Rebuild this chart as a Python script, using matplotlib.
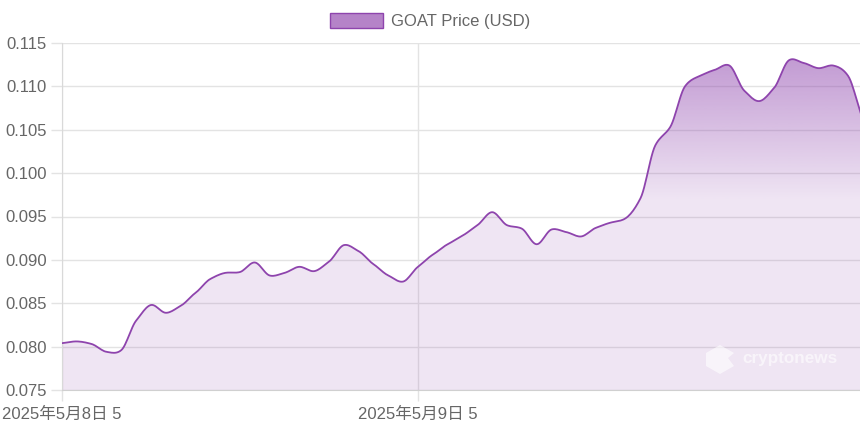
import matplotlib
matplotlib.use("Agg")
import matplotlib.pyplot as plt
import numpy as np
from matplotlib.patches import Patch, Polygon

plt.rcParams['font.family'] = ['Liberation Sans', 'Noto Sans CJK SC', 'DejaVu Sans']

# hourly GOAT price, starting 2025-05-08 05:00
hours = list(range(55))
price = [0.0804, 0.0806, 0.0803, 0.0794, 0.0796, 0.0830, 0.0848, 0.0839, 0.0847, 0.0862,
         0.0878, 0.0885, 0.0886, 0.0897, 0.0882, 0.0885, 0.0892, 0.0887, 0.0898, 0.0917,
         0.0910, 0.0895, 0.0882, 0.0875, 0.0892, 0.0906, 0.0918, 0.0928, 0.0940, 0.0955,
         0.0940, 0.0936, 0.0918, 0.0935, 0.0932, 0.0927, 0.0937, 0.0943, 0.0948, 0.0971,
         0.1032, 0.1053, 0.1100, 0.1112, 0.1119, 0.1124, 0.1095, 0.1083, 0.1098, 0.1130,
         0.1127, 0.1121, 0.1124, 0.1112, 0.1062]
xtick_pos = [0, 24]
xtick_labels = ["2025年5月8日 5", "2025年5月9日 5"]
yticks = [0.075, 0.080, 0.085, 0.090, 0.095, 0.100, 0.105, 0.110, 0.115]

line_col = "#8e44ad"
grid_col = "#e3e3e3"
text_col = "#666666"


def smooth(x, y, n=12, tension=0.4):
    # catmull-rom style curve through the points (like chart.js tension)
    x = np.asarray(x, float)
    y = np.asarray(y, float)
    m = np.zeros_like(y)
    m[1:-1] = (y[2:] - y[:-2]) / (x[2:] - x[:-2])
    m[0] = (y[1] - y[0]) / (x[1] - x[0])
    m[-1] = (y[-1] - y[-2]) / (x[-1] - x[-2])
    m *= tension / 0.5
    xs, ys = [], []
    for i in range(len(x) - 1):
        h = x[i + 1] - x[i]
        t = np.linspace(0, 1, n, endpoint=False)
        h00 = 2*t**3 - 3*t**2 + 1
        h10 = t**3 - 2*t**2 + t
        h01 = -2*t**3 + 3*t**2
        h11 = t**3 - t**2
        xs.append(x[i] + t*h)
        ys.append(h00*y[i] + h10*h*m[i] + h01*y[i+1] + h11*h*m[i+1])
    xs.append([x[-1]])
    ys.append([y[-1]])
    return np.concatenate(xs), np.concatenate(ys)


fig = plt.figure(figsize=(8.6, 4.29), dpi=100)
ax = fig.add_axes([62/860, 1 - 390/429, 798/860, 347/429])

xs, ys = smooth(hours, price)
x_max = 53.8
y_min, y_max = 0.075, 0.115

# gradient fill under the curve
vals = np.linspace(y_min, y_max, 256)
alpha = np.clip(0.14 + (vals - 0.097) / (y_max - 0.097) * (0.58 - 0.14), 0.14, 0.58)
rgba = np.zeros((256, 1, 4))
rgba[..., 0] = 142/255
rgba[..., 1] = 68/255
rgba[..., 2] = 173/255
rgba[..., 3] = alpha.reshape(-1, 1)
im = ax.imshow(rgba, extent=[0, x_max, y_min, y_max], origin='lower',
               aspect='auto', zorder=1, interpolation='bilinear')
poly = Polygon(np.column_stack([np.r_[xs, xs[-1], xs[0]], np.r_[ys, y_min, y_min]]),
               closed=True, facecolor='none', edgecolor='none')
ax.add_patch(poly)
im.set_clip_path(poly)

ax.plot(xs, ys, color=line_col, lw=1.3, zorder=3)

ax.set_xlim(0, x_max)
ax.set_ylim(y_min, y_max)
ax.set_yticks(yticks)
ax.set_yticklabels([f"{v:.3f}" for v in yticks])
ax.set_xticks(xtick_pos)
ax.set_xticklabels(xtick_labels)
ax.tick_params(axis='both', colors=grid_col, labelcolor=text_col, labelsize=12,
               length=8, width=1)
ax.tick_params(axis='y', pad=3)
ax.tick_params(axis='x', pad=4)
ax.grid(True, color=grid_col, lw=1, zorder=0)
ax.set_axisbelow(True)
for s in ['top', 'right']:
    ax.spines[s].set_visible(False)
ax.spines['left'].set_color("#d9d9d9")
ax.spines['bottom'].set_color("#d0d0d0")

# watermark: logo + text
logo = np.array([[720, 345], [734, 353], [728, 358], [734, 366], [720, 374], [706, 366], [706, 353]])
ax.add_patch(Polygon(np.column_stack([logo[:, 0] / 860, 1 - logo[:, 1] / 429]), closed=True,
                     transform=fig.transFigure, facecolor='white', edgecolor='none',
                     alpha=0.6, zorder=4))
fig.text(742 / 860, 1 - 359 / 429, "cryptonews", color='white', alpha=0.6,
         fontsize=12.3, fontweight='bold', ha='left', va='center', zorder=5)

handle = Patch(facecolor="#b583c8", edgecolor=line_col, lw=1)
fig.legend([handle], ["GOAT Price (USD)"], loc='upper center', bbox_to_anchor=(0.5, 1.005),
           frameon=False, fontsize=12, labelcolor=text_col,
           handlelength=3.2, handleheight=1.0, handletextpad=0.5)

fig.savefig("out.png", dpi=100, facecolor='white')
